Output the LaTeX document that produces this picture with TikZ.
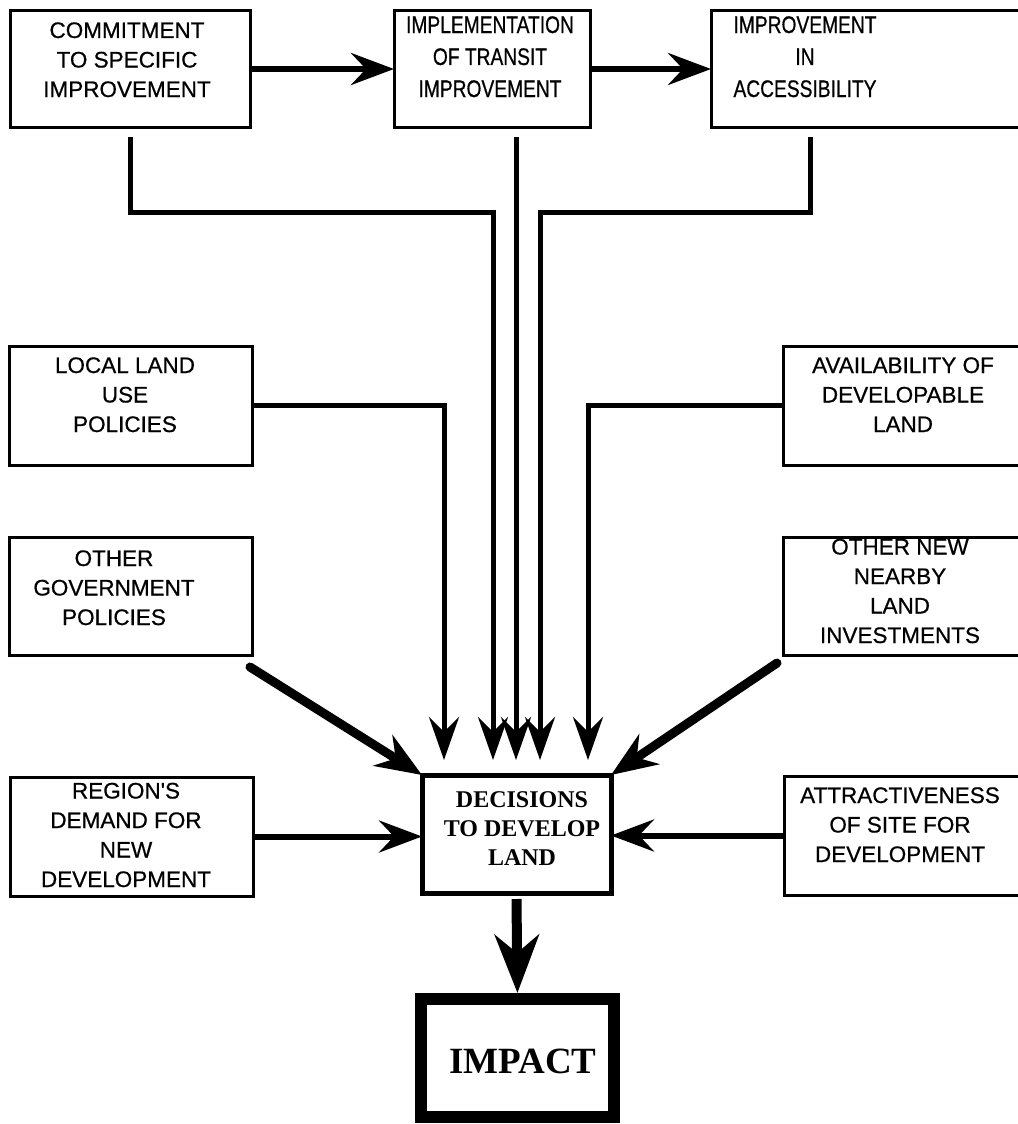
\documentclass[tikz,border=0pt]{standalone}
\usepackage{fontspec}
\setmainfont[FakeBold=0.6,AutoFakeBold=0.6]{Liberation Sans}
\newfontfamily\sansheavy[FakeBold=0.6]{Liberation Sans}
\newfontfamily\narrowsans[FakeStretch=0.8,FakeBold=0.6]{Liberation Sans}
\newfontfamily\timesfam{Liberation Serif}
\usetikzlibrary{arrows.meta}
\begin{document}
\begin{tikzpicture}[x=1pt,y=-1pt,
  box/.style={draw, line width=3pt, inner sep=0pt, outer sep=0pt, anchor=north west},
  lbl/.style={anchor=base, align=center, inner sep=0pt, font=\sansheavy\fontsize{22.5}{29.5}\selectfont},
  nlbl/.style={anchor=base, align=center, inner sep=0pt, font=\narrowsans\fontsize{24}{32}\selectfont},
  harr/.style={line width=6pt, -{Stealth[length=43pt,width=32pt,inset=15pt]}},
  link/.style={line width=5pt, -{Stealth[length=43pt,width=30pt,inset=15pt]}},
  darr/.style={line width=9pt, line cap=round, -{Stealth[length=46pt,width=36pt,inset=15pt]}},
  bigarr/.style={line width=10pt, -{Stealth[length=58pt,width=44pt,inset=18pt]}}
]
\fill[white] (0,0) rectangle (1017,1124);
\useasboundingbox (0,0) rectangle (1017,1124);

% boxes
\node[box, minimum width=240pt, minimum height=116pt] (c1) at (10,11) {};
\node[box, minimum width=196pt, minimum height=116pt] (c2) at (394,11) {};
\node[box, minimum width=330pt, minimum height=116pt] (c3) at (711,11) {};
\node[box, minimum width=243pt, minimum height=119pt] (l1) at (9,346) {};
\node[box, minimum width=243pt, minimum height=118pt] (l2) at (9,537) {};
\node[box, minimum width=243pt, minimum height=119pt] (l3) at (10,777) {};
\node[box, minimum width=260pt, minimum height=119pt] (r1) at (783,346) {};
\node[box, minimum width=260pt, minimum height=118pt] (r2) at (783,537) {};
\node[box, minimum width=260pt, minimum height=119pt] (r3) at (784,776) {};
\node[box, line width=5pt, minimum width=189pt, minimum height=118pt] (dec) at (422,775) {};
\node[box, line width=12pt, minimum width=193pt, minimum height=118pt] (imp) at (421,999) {};

% labels (anchored at the baseline of the last line)
\node[lbl] (c1t) at (127,97) {COMMITMENT\\TO SPECIFIC\\IMPROVEMENT};
\node[nlbl] (c2t) at (490,97) {IMPLEMENTATION\\OF TRANSIT\\IMPROVEMENT};
\node[nlbl] (c3t) at (805,97) {IMPROVEMENT\\IN\\ACCESSIBILITY};
\node[lbl] (l1t) at (125,432) {LOCAL LAND\\USE\\POLICIES};
\node[lbl] (l2t) at (114,625) {OTHER\\GOVERNMENT\\POLICIES};
\node[lbl] (l3t) at (126,887) {REGION\textquotesingle S\\DEMAND FOR\\NEW\\DEVELOPMENT};
\node[lbl] (r1t) at (903,432) {AVAILABILITY OF\\DEVELOPABLE\\LAND};
\node[lbl] (r2t) at (900,643) {OTHER NEW\\NEARBY\\LAND\\INVESTMENTS};
\node[lbl] (r3t) at (900,862) {ATTRACTIVENESS\\OF SITE FOR\\DEVELOPMENT};
\node[anchor=base, align=center, inner sep=0pt, font=\timesfam\bfseries\fontsize{24}{29}\selectfont] (dect) at (522,865) {DECISIONS\\TO DEVELOP\\LAND};
\node[anchor=base, inner sep=0pt, font=\timesfam\bfseries\fontsize{37}{40}\selectfont] (impt) at (523,1073) {IMPACT};

% tip / bend coordinates
\coordinate (k1) at (493,212);
\coordinate (k3) at (540,212);
\coordinate (c3d) at (810,137);
\coordinate (tl1) at (444,760);
\coordinate (tc1) at (493,760);
\coordinate (tc2) at (516,760);
\coordinate (tc3) at (540,760);
\coordinate (tr1) at (588,760);

% connectors
\draw[harr] (c1.east) -- (c2.west);
\draw[harr] (c2.east) -- (c3.west);
\draw[link] ([yshift=-10pt]c1.south) |- (k1) -- (tc1);
\draw[link] ([xshift=24pt,yshift=-10pt]c2.south) -- (tc2);
\draw[link] (c3d) |- (k3) -- (tc3);
\draw[link] (l1.east) -| (tl1);
\draw[link] (r1.west) -| (tr1);
\draw[darr] ([xshift=-2pt,yshift=-12pt]l2.south east) -- (dec.north west);
\draw[darr] ([xshift=-6pt,yshift=-8pt]r2.south west) -- (dec.north east);
\draw[harr] (l3.east) -- (l3.east -| dec.west);
\draw[harr] (r3.west) -- (r3.west -| dec.east);
\draw[bigarr, shorten >=6pt] ([yshift=-6pt]dec.south) -- (imp.north);
\end{tikzpicture}
\end{document}
